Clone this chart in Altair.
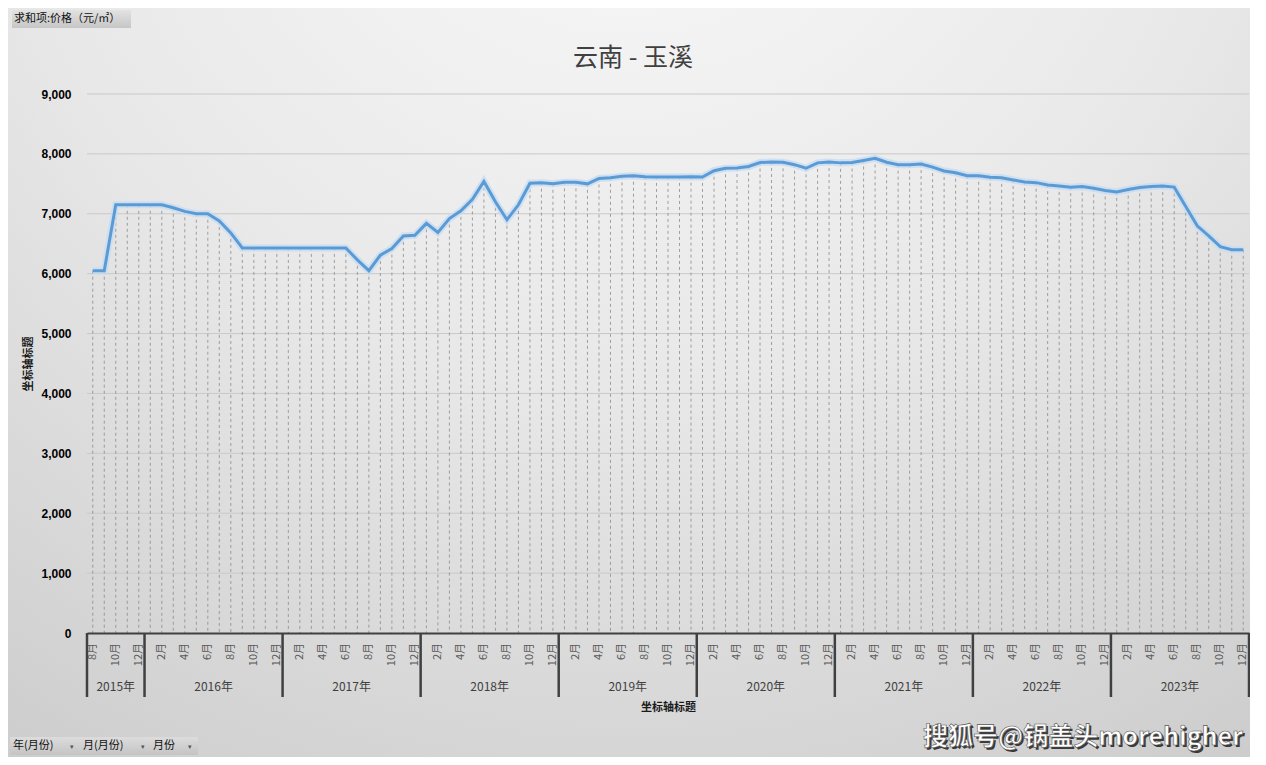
import altair as alt
import pandas as pd

# ---------------- data ----------------
years = ["2015年", "2016年", "2017年", "2018年", "2019年", "2020年", "2021年", "2022年", "2023年"]
months_in_year = [5, 12, 12, 12, 12, 12, 12, 12, 12]
prices = [
    6050, 6050, 7150, 7150, 7150,                                              # 2015 Aug-Dec
    7150, 7150, 7100, 7040, 7000, 7000, 6880, 6680, 6430, 6430, 6430, 6430,    # 2016
    6430, 6430, 6430, 6430, 6430, 6430, 6230, 6050, 6310, 6420, 6630, 6640,    # 2017
    6840, 6690, 6920, 7050, 7240, 7540, 7200, 6900, 7150, 7510, 7520, 7500,    # 2018
    7525, 7525, 7500, 7590, 7600, 7625, 7635, 7620, 7615, 7615, 7615, 7620,    # 2019
    7615, 7720, 7760, 7765, 7790, 7855, 7865, 7860, 7820, 7760, 7850, 7865,    # 2020
    7850, 7855, 7890, 7925, 7860, 7820, 7820, 7830, 7780, 7715, 7685, 7635,    # 2021
    7635, 7610, 7600, 7565, 7530, 7520, 7480, 7465, 7445, 7455, 7425, 7390,    # 2022
    7365, 7405, 7440, 7455, 7465, 7445, 7120, 6800, 6630, 6450, 6400, 6400,    # 2023
]
y_ticks = [1000, 2000, 3000, 4000, 5000, 6000, 7000, 8000, 9000]
chart_title = "云南 - 玉溪"
axis_title = "坐标轴标题"
field_button = "求和项:价格（元/㎡）"
filter_buttons = ["年(月份)", "月(月份)", "月份"]
watermark = "搜狐号@锅盖头morehigher"

# ---------------- table ----------------
rows = []
year_rows = []
bounds = [-0.5]
i = 0
for yl, n in zip(years, months_in_year):
    first = i
    for m in range(13 - n, 13):
        rows.append({"idx": i, "price": prices[i], "year": yl, "month": f"{m}月", "even": m % 2 == 0})
        i += 1
    year_rows.append({"mid": (first + i - 1) / 2, "year": yl})
    bounds.append(i - 0.5)
df = pd.DataFrame(rows)
ydf = pd.DataFrame(year_rows)
bdf = pd.DataFrame({"b": bounds})
gdf = pd.DataFrame({"v": y_ticks})
n_cat = len(df)

W, H = 1162, 539
FONT = "Noto Sans CJK SC"

xscale = alt.Scale(domain=[-0.5, n_cat - 0.5], nice=False, zero=False)
yscale = alt.Scale(domain=[0, 9000], nice=False)

xaxis = alt.Axis(title=axis_title, labels=False, ticks=False, tickSize=0, grid=False,
                 domain=True, domainColor="#404040", domainWidth=2,
                 titleX=W / 2, titleY=74, titleAlign="center", titleBaseline="middle",
                 titleFont=FONT, titleFontSize=11, titleFontWeight="bold",
                 titleColor="#1a1a1a", zindex=1)
yaxis = alt.Axis(title=axis_title, values=list(range(0, 10000, 1000)), format=",.0f",
                 labelFont="Liberation Sans", labelFontSize=12, labelFontWeight="bold",
                 labelColor="#000000", labelPadding=16, tickSize=0, ticks=False,
                 domain=False, grid=False,
                 titleX=-59, titleY=H / 2, titleAngle=270, titleAlign="center",
                 titleBaseline="middle", titleFont=FONT, titleFontSize=11,
                 titleFontWeight="bold", titleColor="#1a1a1a", zindex=1)

one = alt.Data(values=[{"k": 1}])

bg = alt.Chart(one).mark_rect(
    color=alt.RadialGradient(
        gradient="radial", x1=0.5, y1=0.0, r1=0, x2=0.5, y2=0.0, r2=1.12,
        stops=[alt.GradientStop(offset=0, color="#fbfbfb"),
               alt.GradientStop(offset=0.45, color="#e8e8e8"),
               alt.GradientStop(offset=1, color="#c2c2c2")]),
).encode(x=alt.value(-79), x2=alt.value(W + 1), y=alt.value(-86), y2=alt.value(H + 124))

grid = alt.Chart(gdf).mark_rule(color="#c9c9c9", strokeWidth=1).encode(
    y=alt.Y("v:Q", scale=yscale, axis=yaxis), x=alt.value(0), x2=alt.value(W))

drops = alt.Chart(df).mark_rule(color="#8a8a8a", strokeWidth=0.8, strokeDash=[3, 3]).encode(
    x=alt.X("idx:Q", scale=xscale, axis=xaxis),
    y=alt.Y("price:Q", scale=yscale, axis=yaxis),
    y2=alt.value(H))

glow = alt.Chart(df).mark_line(color="#c5dcf1", strokeWidth=7, opacity=0.8).encode(
    x=alt.X("idx:Q", scale=xscale, axis=xaxis),
    y=alt.Y("price:Q", scale=yscale, axis=yaxis))

line = alt.Chart(df).mark_line(color="#5b9bd5", strokeWidth=3).encode(
    x=alt.X("idx:Q", scale=xscale, axis=xaxis),
    y=alt.Y("price:Q", scale=yscale, axis=yaxis))

months = alt.Chart(df).transform_filter("datum.even").mark_text(
    angle=270, align="right", baseline="middle", font=FONT, fontSize=11, color="#595959"
).encode(x=alt.X("idx:Q", scale=xscale, axis=xaxis), y=alt.value(H + 10), text="month:N")

yearlab = alt.Chart(ydf).mark_text(
    align="center", baseline="middle", font=FONT, fontSize=12, color="#404040"
).encode(x=alt.X("mid:Q", scale=xscale, axis=xaxis), y=alt.value(H + 54), text="year:N")

seps = alt.Chart(bdf).mark_rule(color="#404040", strokeWidth=2.5).encode(
    x=alt.X("b:Q", scale=xscale, axis=xaxis), y=alt.value(H), y2=alt.value(H + 64))

title = alt.Chart(alt.Data(values=[{"t": chart_title}])).mark_text(
    align="center", baseline="middle", font=FONT, fontSize=25, color="#404040"
).encode(x=alt.value(546), y=alt.value(-36), text="t:N")

btn_box = alt.Chart(one).mark_rect(
    color=alt.LinearGradient(gradient="linear", x1=0, y1=0, x2=0, y2=1,
                             stops=[alt.GradientStop(offset=0, color="#e2e2e2"),
                                    alt.GradientStop(offset=1, color="#c6c6c6")])
).encode(x=alt.value(-75), x2=alt.value(44), y=alt.value(-84), y2=alt.value(-66))
btn_text = alt.Chart(alt.Data(values=[{"t": field_button}])).mark_text(
    align="left", baseline="middle", font=FONT, fontSize=11, color="#111111"
).encode(x=alt.value(-73), y=alt.value(-75), text="t:N")

fb_box = alt.Chart(one).mark_rect(
    color=alt.LinearGradient(gradient="linear", x1=0, y1=0, x2=0, y2=1,
                             stops=[alt.GradientStop(offset=0, color="#dcdcdc"),
                                    alt.GradientStop(offset=1, color="#c4c4c4")])
).encode(x=alt.value(-77), x2=alt.value(111), y=alt.value(643), y2=alt.value(661))
fb_text = alt.Chart(alt.Data(values=[{"t": filter_buttons[0], "px": -74},
                                     {"t": filter_buttons[1], "px": -4},
                                     {"t": filter_buttons[2], "px": 66}])).mark_text(
    align="left", baseline="middle", font=FONT, fontSize=11, color="#111111"
).encode(x=alt.X("px:Q", scale=None), y=alt.value(652), text="t:N")
fb_arrow = alt.Chart(alt.Data(values=[{"px": -15}, {"px": 56}, {"px": 103}])).mark_text(
    text="▾", align="center", baseline="middle", fontSize=7, color="#555555"
).encode(x=alt.X("px:Q", scale=None), y=alt.value(653))

wm_shadow = alt.Chart(alt.Data(values=[{"t": watermark}])).mark_text(
    align="left", baseline="middle", font=FONT, fontSize=25, fontWeight="bold",
    color="#3a3a3a", dx=2, dy=2
).encode(x=alt.value(836), y=alt.value(643), text="t:N")
wm = alt.Chart(alt.Data(values=[{"t": watermark}])).mark_text(
    align="left", baseline="middle", font=FONT, fontSize=25, fontWeight="bold",
    color="#ffffff", stroke="#555555", strokeWidth=0.6
).encode(x=alt.value(836), y=alt.value(643), text="t:N")

chart = alt.layer(
    bg, grid, drops, glow, line, months, yearlab, seps, title,
    btn_box, btn_text, fb_box, fb_text, fb_arrow, wm_shadow, wm
).properties(
    width=W, height=H,
    autosize=alt.AutoSizeParams(type="none"),
    padding={"left": 79, "top": 86, "right": 1, "bottom": 124},
).configure_view(stroke=None).configure(font=FONT)

chart.save("out.html", embed_options={"renderer": "svg", "actions": False})
